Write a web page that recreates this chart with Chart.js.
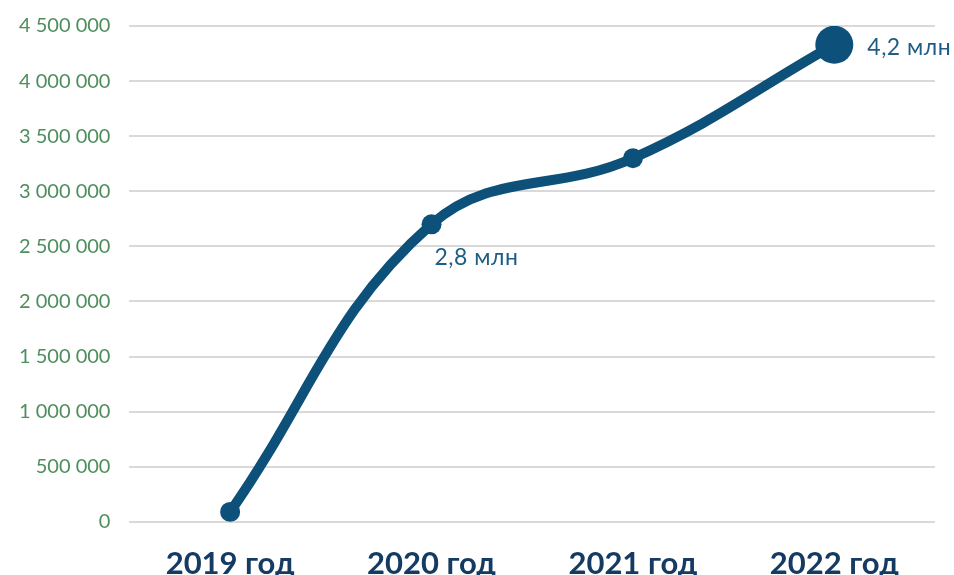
<!DOCTYPE html>
<html>
<head>
<meta charset="utf-8">
<script src="https://cdn.jsdelivr.net/npm/chart.js@4"></script>
<style>
  html, body { margin: 0; padding: 0; background: #fff; overflow: hidden; }
  #wrap { width: 954px; height: 575px; overflow: hidden; }
  #inner { width: 954px; height: 604px; position: relative; margin-top: -5px; }
</style>
</head>
<body>
<div id="wrap"><div id="inner"><canvas id="graficoAbonentes"></canvas></div></div>
<script>
const GRAF = document.getElementById("graficoAbonentes");

// data
const anos = ['2019 год', '2020 год', '2021 год', '2022 год'];
const valores = [90000, 2700000, 3300000, 4330000];
const rotulos = ['', '2,8 млн', '', '4,2 млн'];
const raios = [10, 10, 10, 19];

const corLinha = '#0d5079';
const corVerde = '#4e8e5c';
const corTexto = '#163b63';

// rótulos de dados ao lado dos pontos
const pluginRotulos = {
    id: 'rotulos',
    afterDatasetsDraw(chart) {
        const ctx = chart.ctx;
        const meta = chart.getDatasetMeta(0);
        ctx.save();
        ctx.font = '23px Lato';
        ctx.letterSpacing = '0.5px';
        ctx.fillStyle = '#1f5d86';
        ctx.textAlign = 'left';
        ctx.textBaseline = 'middle';
        meta.data.forEach((pt, i) => {
            if (!rotulos[i]) return;
            if (i === meta.data.length - 1) {
                ctx.fillText(rotulos[i], pt.x + 33, pt.y + 3);
            } else {
                ctx.fillText(rotulos[i], pt.x + 3, pt.y + 33);
            }
        });
        ctx.restore();
    }
};

const config = {
    type: 'line',
    data: {
        labels: anos,
        datasets: [{
            data: valores,
            borderColor: corLinha,
            backgroundColor: corLinha,
            borderWidth: 10,
            tension: 0.4,
            pointRadius: raios,
            pointHoverRadius: raios,
            pointBackgroundColor: corLinha,
            pointBorderWidth: 0,
            borderCapStyle: 'round'
        }]
    },
    options: {
        responsive: true,
        maintainAspectRatio: false,
        animation: false,
        layout: { padding: { top: 5, right: 19, left: 0, bottom: 0 } },
        plugins: {
            legend: { display: false },
            tooltip: { enabled: false }
        },
        scales: {
            x: {
                offset: true,
                grid: { display: false },
                border: { display: false },
                ticks: {
                    color: corTexto,
                    font: { family: 'Lato', size: 31, weight: 'bold' },
                    padding: 16
                }
            },
            y: {
                min: 0,
                max: 4500000,
                grid: { color: '#d9d9d9', lineWidth: 2, drawTicks: false },
                border: { display: false },
                ticks: {
                    stepSize: 500000,
                    color: corVerde,
                    padding: 19,
                    font: { family: 'Lato', size: 20 },
                    callback: v => String(v).replace(/\B(?=(\d{3})+(?!\d))/g, ' ')
                }
            }
        }
    },
    plugins: [pluginRotulos]
};

new Chart(GRAF, config);
</script>
</body>
</html>
